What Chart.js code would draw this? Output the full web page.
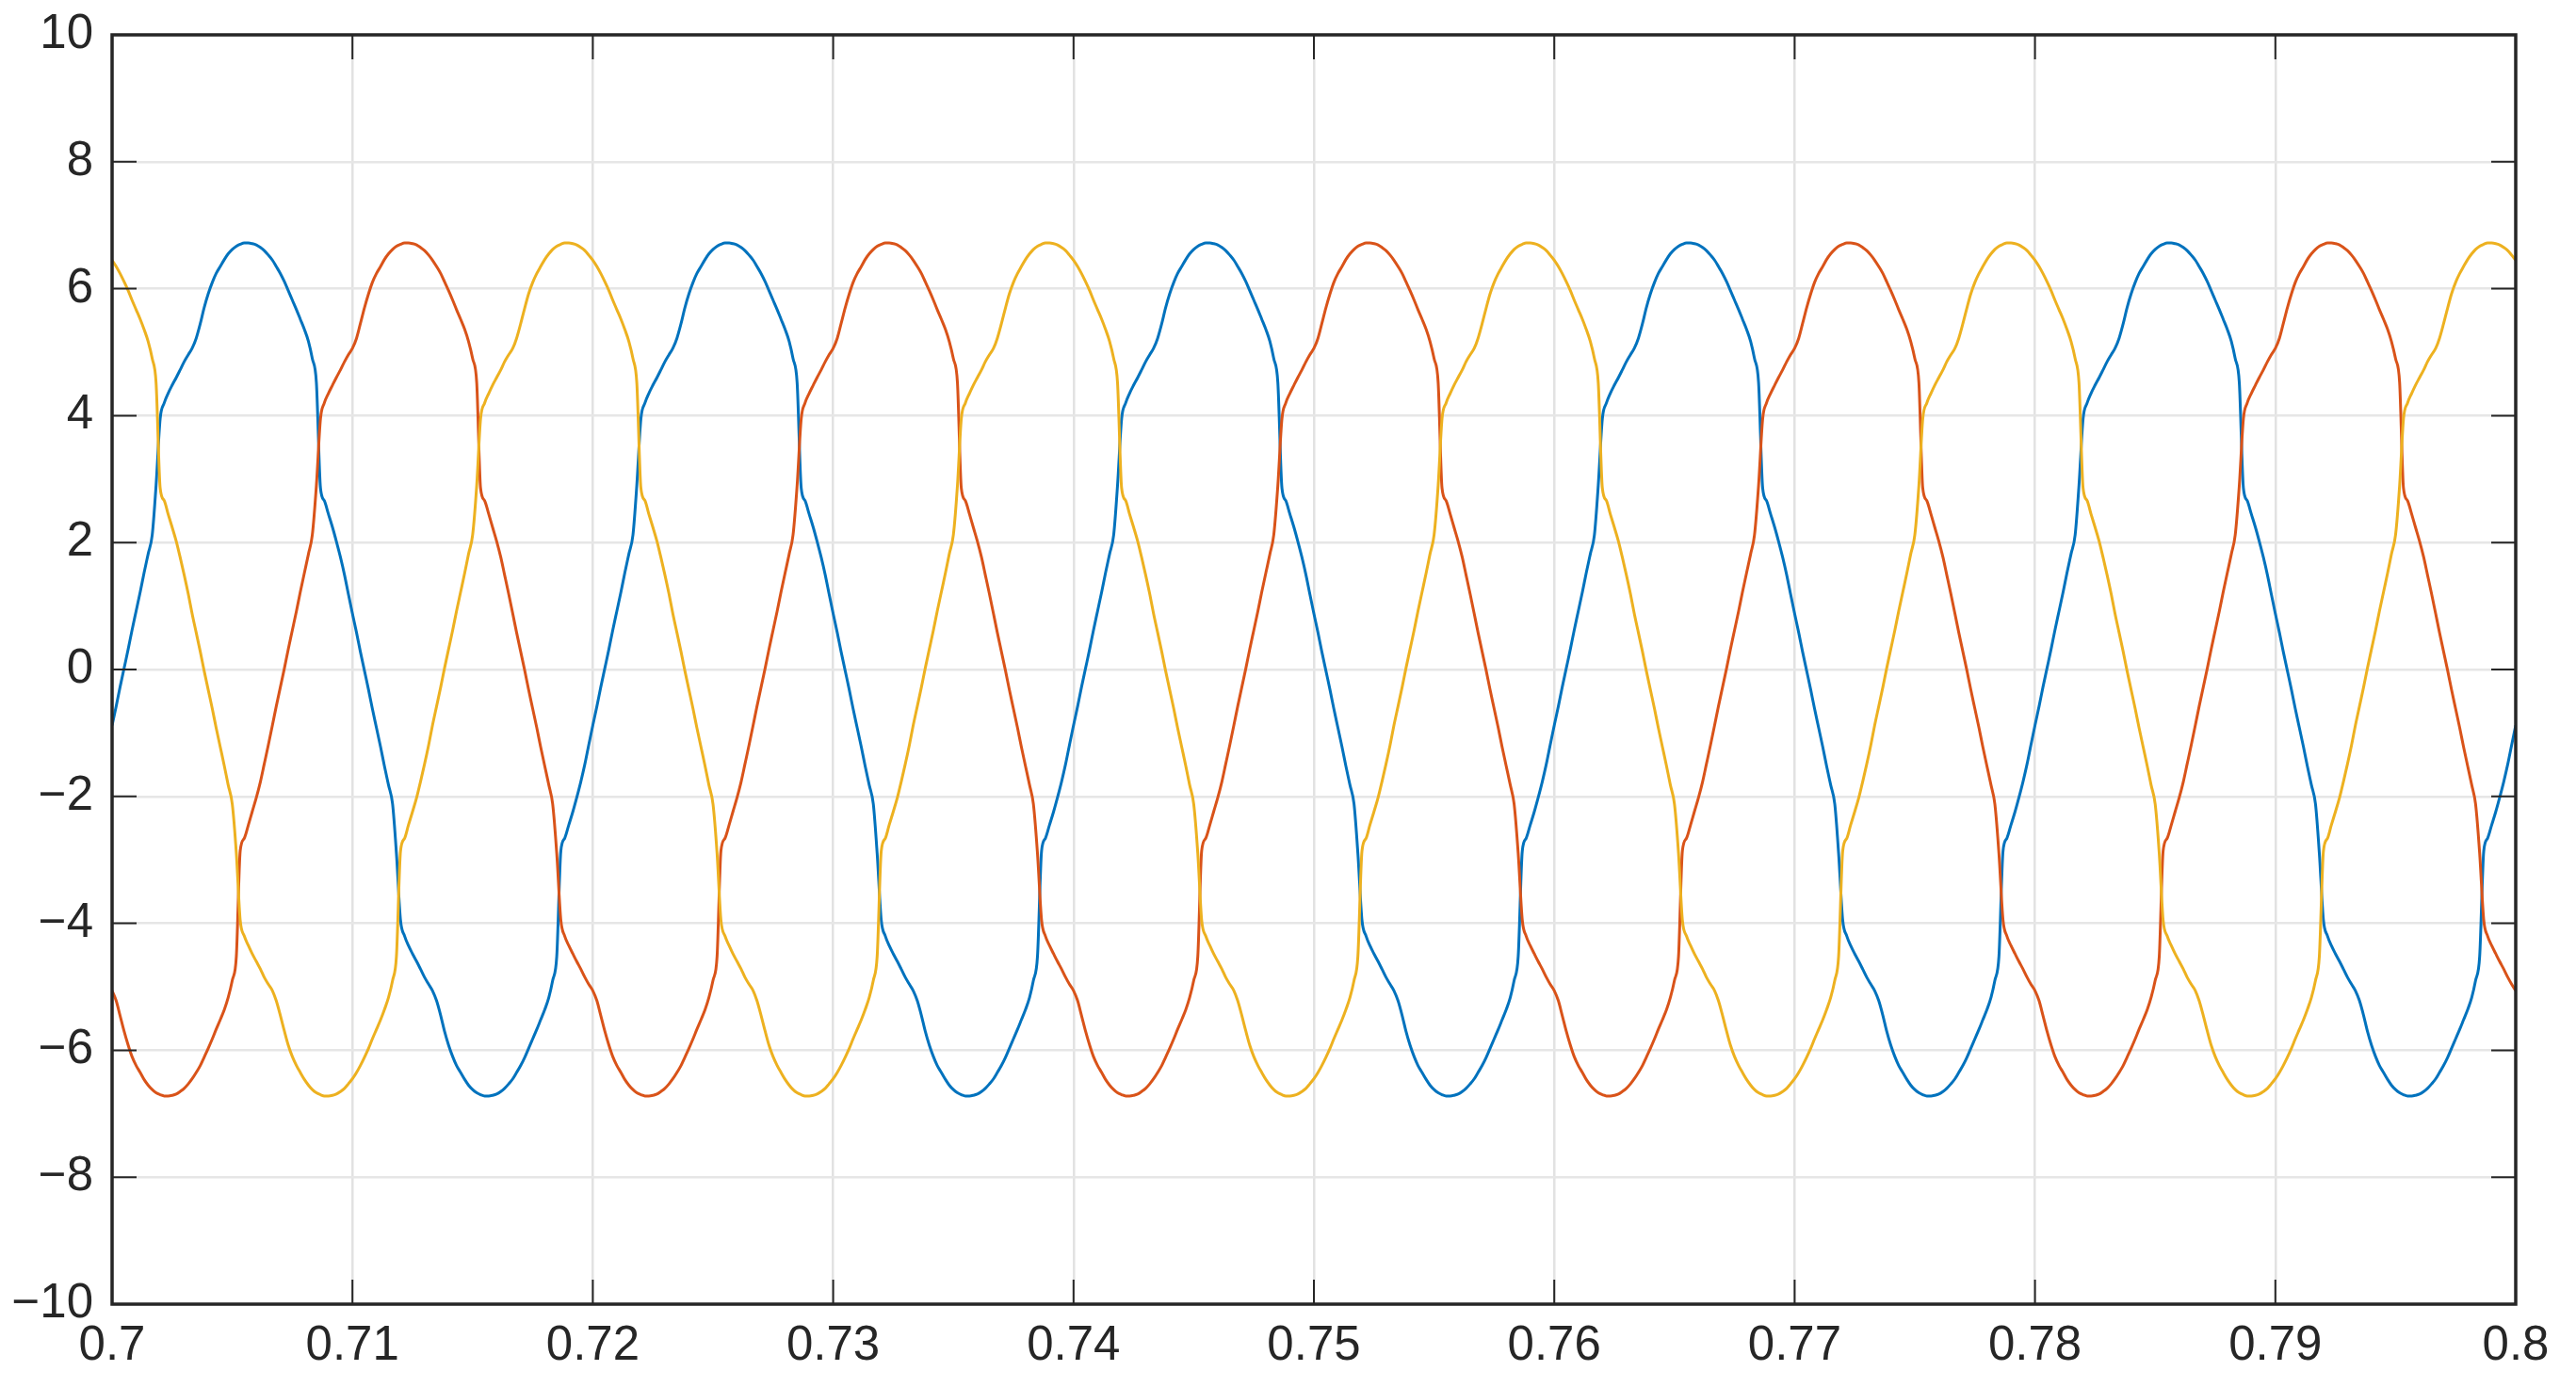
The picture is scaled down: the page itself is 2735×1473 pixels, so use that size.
<!DOCTYPE html>
<html>
<head>
<meta charset="utf-8">
<script src="https://cdn.jsdelivr.net/npm/chart.js@4.4.1/dist/chart.umd.min.js"></script>
<style>
html,body{margin:0;padding:0;background:#ffffff;}
#wrap{width:2735px;height:1473px;}
canvas{background:#ffffff;}
</style>
</head>
<body>
<div id="wrap"><canvas id="c" width="2735" height="1473"></canvas></div>
<script>
// Sample times (s), 1/6000 s apart
const sampleTimes = [
0.7,0.70017,0.70033,0.7005,0.70067,0.70083,
0.701,0.70117,0.70133,0.7015,0.70167,0.70183,
0.702,0.70217,0.70233,0.7025,0.70267,0.70283,
0.703,0.70317,0.70333,0.7035,0.70367,0.70383,
0.704,0.70417,0.70433,0.7045,0.70467,0.70483,
0.705,0.70517,0.70533,0.7055,0.70567,0.70583,
0.706,0.70617,0.70633,0.7065,0.70667,0.70683,
0.707,0.70717,0.70733,0.7075,0.70767,0.70783,
0.708,0.70817,0.70833,0.7085,0.70867,0.70883,
0.709,0.70917,0.70933,0.7095,0.70967,0.70983,
0.71,0.71017,0.71033,0.7105,0.71067,0.71083,
0.711,0.71117,0.71133,0.7115,0.71167,0.71183,
0.712,0.71217,0.71233,0.7125,0.71267,0.71283,
0.713,0.71317,0.71333,0.7135,0.71367,0.71383,
0.714,0.71417,0.71433,0.7145,0.71467,0.71483,
0.715,0.71517,0.71533,0.7155,0.71567,0.71583,
0.716,0.71617,0.71633,0.7165,0.71667,0.71683,
0.717,0.71717,0.71733,0.7175,0.71767,0.71783,
0.718,0.71817,0.71833,0.7185,0.71867,0.71883,
0.719,0.71917,0.71933,0.7195,0.71967,0.71983,
0.72,0.72017,0.72033,0.7205,0.72067,0.72083,
0.721,0.72117,0.72133,0.7215,0.72167,0.72183,
0.722,0.72217,0.72233,0.7225,0.72267,0.72283,
0.723,0.72317,0.72333,0.7235,0.72367,0.72383,
0.724,0.72417,0.72433,0.7245,0.72467,0.72483,
0.725,0.72517,0.72533,0.7255,0.72567,0.72583,
0.726,0.72617,0.72633,0.7265,0.72667,0.72683,
0.727,0.72717,0.72733,0.7275,0.72767,0.72783,
0.728,0.72817,0.72833,0.7285,0.72867,0.72883,
0.729,0.72917,0.72933,0.7295,0.72967,0.72983,
0.73,0.73017,0.73033,0.7305,0.73067,0.73083,
0.731,0.73117,0.73133,0.7315,0.73167,0.73183,
0.732,0.73217,0.73233,0.7325,0.73267,0.73283,
0.733,0.73317,0.73333,0.7335,0.73367,0.73383,
0.734,0.73417,0.73433,0.7345,0.73467,0.73483,
0.735,0.73517,0.73533,0.7355,0.73567,0.73583,
0.736,0.73617,0.73633,0.7365,0.73667,0.73683,
0.737,0.73717,0.73733,0.7375,0.73767,0.73783,
0.738,0.73817,0.73833,0.7385,0.73867,0.73883,
0.739,0.73917,0.73933,0.7395,0.73967,0.73983,
0.74,0.74017,0.74033,0.7405,0.74067,0.74083,
0.741,0.74117,0.74133,0.7415,0.74167,0.74183,
0.742,0.74217,0.74233,0.7425,0.74267,0.74283,
0.743,0.74317,0.74333,0.7435,0.74367,0.74383,
0.744,0.74417,0.74433,0.7445,0.74467,0.74483,
0.745,0.74517,0.74533,0.7455,0.74567,0.74583,
0.746,0.74617,0.74633,0.7465,0.74667,0.74683,
0.747,0.74717,0.74733,0.7475,0.74767,0.74783,
0.748,0.74817,0.74833,0.7485,0.74867,0.74883,
0.749,0.74917,0.74933,0.7495,0.74967,0.74983,
0.75,0.75017,0.75033,0.7505,0.75067,0.75083,
0.751,0.75117,0.75133,0.7515,0.75167,0.75183,
0.752,0.75217,0.75233,0.7525,0.75267,0.75283,
0.753,0.75317,0.75333,0.7535,0.75367,0.75383,
0.754,0.75417,0.75433,0.7545,0.75467,0.75483,
0.755,0.75517,0.75533,0.7555,0.75567,0.75583,
0.756,0.75617,0.75633,0.7565,0.75667,0.75683,
0.757,0.75717,0.75733,0.7575,0.75767,0.75783,
0.758,0.75817,0.75833,0.7585,0.75867,0.75883,
0.759,0.75917,0.75933,0.7595,0.75967,0.75983,
0.76,0.76017,0.76033,0.7605,0.76067,0.76083,
0.761,0.76117,0.76133,0.7615,0.76167,0.76183,
0.762,0.76217,0.76233,0.7625,0.76267,0.76283,
0.763,0.76317,0.76333,0.7635,0.76367,0.76383,
0.764,0.76417,0.76433,0.7645,0.76467,0.76483,
0.765,0.76517,0.76533,0.7655,0.76567,0.76583,
0.766,0.76617,0.76633,0.7665,0.76667,0.76683,
0.767,0.76717,0.76733,0.7675,0.76767,0.76783,
0.768,0.76817,0.76833,0.7685,0.76867,0.76883,
0.769,0.76917,0.76933,0.7695,0.76967,0.76983,
0.77,0.77017,0.77033,0.7705,0.77067,0.77083,
0.771,0.77117,0.77133,0.7715,0.77167,0.77183,
0.772,0.77217,0.77233,0.7725,0.77267,0.77283,
0.773,0.77317,0.77333,0.7735,0.77367,0.77383,
0.774,0.77417,0.77433,0.7745,0.77467,0.77483,
0.775,0.77517,0.77533,0.7755,0.77567,0.77583,
0.776,0.77617,0.77633,0.7765,0.77667,0.77683,
0.777,0.77717,0.77733,0.7775,0.77767,0.77783,
0.778,0.77817,0.77833,0.7785,0.77867,0.77883,
0.779,0.77917,0.77933,0.7795,0.77967,0.77983,
0.78,0.78017,0.78033,0.7805,0.78067,0.78083,
0.781,0.78117,0.78133,0.7815,0.78167,0.78183,
0.782,0.78217,0.78233,0.7825,0.78267,0.78283,
0.783,0.78317,0.78333,0.7835,0.78367,0.78383,
0.784,0.78417,0.78433,0.7845,0.78467,0.78483,
0.785,0.78517,0.78533,0.7855,0.78567,0.78583,
0.786,0.78617,0.78633,0.7865,0.78667,0.78683,
0.787,0.78717,0.78733,0.7875,0.78767,0.78783,
0.788,0.78817,0.78833,0.7885,0.78867,0.78883,
0.789,0.78917,0.78933,0.7895,0.78967,0.78983,
0.79,0.79017,0.79033,0.7905,0.79067,0.79083,
0.791,0.79117,0.79133,0.7915,0.79167,0.79183,
0.792,0.79217,0.79233,0.7925,0.79267,0.79283,
0.793,0.79317,0.79333,0.7935,0.79367,0.79383,
0.794,0.79417,0.79433,0.7945,0.79467,0.79483,
0.795,0.79517,0.79533,0.7955,0.79567,0.79583,
0.796,0.79617,0.79633,0.7965,0.79667,0.79683,
0.797,0.79717,0.79733,0.7975,0.79767,0.79783,
0.798,0.79817,0.79833,0.7985,0.79867,0.79883,
0.799,0.79917,0.79933,0.7995,0.79967,0.79983,
0.8
];

// Phase A (blue)
const phaseA = [
-0.88,-0.58,-0.28,0.02,0.32,0.62,0.92,1.22,1.52,1.82,2.12,2.9,3.95,4.2,4.35,4.48,4.6,4.72,4.85,4.96,5.06,5.22,5.45,5.7,5.92,6.1,6.24,6.35,6.46,6.55,6.62,6.67,6.7,6.72,6.72,6.71,6.69,6.65,6.6,6.53,6.45,6.35,6.24,6.11,5.97,5.82,5.67,5.52,5.36,5.17,4.9,4.52,2.86,2.66,2.45,2.24,2.02,1.77,1.49,1.19,
0.88,0.58,0.28,-0.02,-0.32,-0.62,-0.92,-1.22,-1.52,-1.82,-2.12,-2.9,-3.95,-4.2,-4.35,-4.48,-4.6,-4.72,-4.85,-4.96,-5.06,-5.22,-5.45,-5.7,-5.92,-6.1,-6.24,-6.35,-6.46,-6.55,-6.62,-6.67,-6.7,-6.72,-6.72,-6.71,-6.69,-6.65,-6.6,-6.53,-6.45,-6.35,-6.24,-6.11,-5.97,-5.82,-5.67,-5.52,-5.36,-5.17,-4.9,-4.52,-2.86,-2.66,-2.45,-2.24,-2.02,-1.77,-1.49,-1.19,
-0.88,-0.58,-0.28,0.02,0.32,0.62,0.92,1.22,1.52,1.82,2.12,2.9,3.95,4.2,4.35,4.48,4.6,4.72,4.85,4.96,5.06,5.22,5.45,5.7,5.92,6.1,6.24,6.35,6.46,6.55,6.62,6.67,6.7,6.72,6.72,6.71,6.69,6.65,6.6,6.53,6.45,6.35,6.24,6.11,5.97,5.82,5.67,5.52,5.36,5.17,4.9,4.52,2.86,2.66,2.45,2.24,2.02,1.77,1.49,1.19,
0.88,0.58,0.28,-0.02,-0.32,-0.62,-0.92,-1.22,-1.52,-1.82,-2.12,-2.9,-3.95,-4.2,-4.35,-4.48,-4.6,-4.72,-4.85,-4.96,-5.06,-5.22,-5.45,-5.7,-5.92,-6.1,-6.24,-6.35,-6.46,-6.55,-6.62,-6.67,-6.7,-6.72,-6.72,-6.71,-6.69,-6.65,-6.6,-6.53,-6.45,-6.35,-6.24,-6.11,-5.97,-5.82,-5.67,-5.52,-5.36,-5.17,-4.9,-4.52,-2.86,-2.66,-2.45,-2.24,-2.02,-1.77,-1.49,-1.19,
-0.88,-0.58,-0.28,0.02,0.32,0.62,0.92,1.22,1.52,1.82,2.12,2.9,3.95,4.2,4.35,4.48,4.6,4.72,4.85,4.96,5.06,5.22,5.45,5.7,5.92,6.1,6.24,6.35,6.46,6.55,6.62,6.67,6.7,6.72,6.72,6.71,6.69,6.65,6.6,6.53,6.45,6.35,6.24,6.11,5.97,5.82,5.67,5.52,5.36,5.17,4.9,4.52,2.86,2.66,2.45,2.24,2.02,1.77,1.49,1.19,
0.88,0.58,0.28,-0.02,-0.32,-0.62,-0.92,-1.22,-1.52,-1.82,-2.12,-2.9,-3.95,-4.2,-4.35,-4.48,-4.6,-4.72,-4.85,-4.96,-5.06,-5.22,-5.45,-5.7,-5.92,-6.1,-6.24,-6.35,-6.46,-6.55,-6.62,-6.67,-6.7,-6.72,-6.72,-6.71,-6.69,-6.65,-6.6,-6.53,-6.45,-6.35,-6.24,-6.11,-5.97,-5.82,-5.67,-5.52,-5.36,-5.17,-4.9,-4.52,-2.86,-2.66,-2.45,-2.24,-2.02,-1.77,-1.49,-1.19,
-0.88,-0.58,-0.28,0.02,0.32,0.62,0.92,1.22,1.52,1.82,2.12,2.9,3.95,4.2,4.35,4.48,4.6,4.72,4.85,4.96,5.06,5.22,5.45,5.7,5.92,6.1,6.24,6.35,6.46,6.55,6.62,6.67,6.7,6.72,6.72,6.71,6.69,6.65,6.6,6.53,6.45,6.35,6.24,6.11,5.97,5.82,5.67,5.52,5.36,5.17,4.9,4.52,2.86,2.66,2.45,2.24,2.02,1.77,1.49,1.19,
0.88,0.58,0.28,-0.02,-0.32,-0.62,-0.92,-1.22,-1.52,-1.82,-2.12,-2.9,-3.95,-4.2,-4.35,-4.48,-4.6,-4.72,-4.85,-4.96,-5.06,-5.22,-5.45,-5.7,-5.92,-6.1,-6.24,-6.35,-6.46,-6.55,-6.62,-6.67,-6.7,-6.72,-6.72,-6.71,-6.69,-6.65,-6.6,-6.53,-6.45,-6.35,-6.24,-6.11,-5.97,-5.82,-5.67,-5.52,-5.36,-5.17,-4.9,-4.52,-2.86,-2.66,-2.45,-2.24,-2.02,-1.77,-1.49,-1.19,
-0.88,-0.58,-0.28,0.02,0.32,0.62,0.92,1.22,1.52,1.82,2.12,2.9,3.95,4.2,4.35,4.48,4.6,4.72,4.85,4.96,5.06,5.22,5.45,5.7,5.92,6.1,6.24,6.35,6.46,6.55,6.62,6.67,6.7,6.72,6.72,6.71,6.69,6.65,6.6,6.53,6.45,6.35,6.24,6.11,5.97,5.82,5.67,5.52,5.36,5.17,4.9,4.52,2.86,2.66,2.45,2.24,2.02,1.77,1.49,1.19,
0.88,0.58,0.28,-0.02,-0.32,-0.62,-0.92,-1.22,-1.52,-1.82,-2.12,-2.9,-3.95,-4.2,-4.35,-4.48,-4.6,-4.72,-4.85,-4.96,-5.06,-5.22,-5.45,-5.7,-5.92,-6.1,-6.24,-6.35,-6.46,-6.55,-6.62,-6.67,-6.7,-6.72,-6.72,-6.71,-6.69,-6.65,-6.6,-6.53,-6.45,-6.35,-6.24,-6.11,-5.97,-5.82,-5.67,-5.52,-5.36,-5.17,-4.9,-4.52,-2.86,-2.66,-2.45,-2.24,-2.02,-1.77,-1.49,-1.19,
-0.88
];

// Phase B (red/orange)
const phaseB = [
-5.06,-5.22,-5.45,-5.7,-5.92,-6.1,-6.24,-6.35,-6.46,-6.55,-6.62,-6.67,-6.7,-6.72,-6.72,-6.71,-6.69,-6.65,-6.6,-6.53,-6.45,-6.35,-6.24,-6.11,-5.97,-5.82,-5.67,-5.52,-5.36,-5.17,-4.9,-4.52,-2.86,-2.66,-2.45,-2.24,-2.02,-1.77,-1.49,-1.19,
-0.88,-0.58,-0.28,0.02,0.32,0.62,0.92,1.22,1.52,1.82,2.12,2.9,3.95,4.2,4.35,4.48,4.6,4.72,4.85,4.96,5.06,5.22,5.45,5.7,5.92,6.1,6.24,6.35,6.46,6.55,6.62,6.67,6.7,6.72,6.72,6.71,6.69,6.65,6.6,6.53,6.45,6.35,6.24,6.11,5.97,5.82,5.67,5.52,5.36,5.17,4.9,4.52,2.86,2.66,2.45,2.24,2.02,1.77,1.49,1.19,
0.88,0.58,0.28,-0.02,-0.32,-0.62,-0.92,-1.22,-1.52,-1.82,-2.12,-2.9,-3.95,-4.2,-4.35,-4.48,-4.6,-4.72,-4.85,-4.96,-5.06,-5.22,-5.45,-5.7,-5.92,-6.1,-6.24,-6.35,-6.46,-6.55,-6.62,-6.67,-6.7,-6.72,-6.72,-6.71,-6.69,-6.65,-6.6,-6.53,-6.45,-6.35,-6.24,-6.11,-5.97,-5.82,-5.67,-5.52,-5.36,-5.17,-4.9,-4.52,-2.86,-2.66,-2.45,-2.24,-2.02,-1.77,-1.49,-1.19,
-0.88,-0.58,-0.28,0.02,0.32,0.62,0.92,1.22,1.52,1.82,2.12,2.9,3.95,4.2,4.35,4.48,4.6,4.72,4.85,4.96,5.06,5.22,5.45,5.7,5.92,6.1,6.24,6.35,6.46,6.55,6.62,6.67,6.7,6.72,6.72,6.71,6.69,6.65,6.6,6.53,6.45,6.35,6.24,6.11,5.97,5.82,5.67,5.52,5.36,5.17,4.9,4.52,2.86,2.66,2.45,2.24,2.02,1.77,1.49,1.19,
0.88,0.58,0.28,-0.02,-0.32,-0.62,-0.92,-1.22,-1.52,-1.82,-2.12,-2.9,-3.95,-4.2,-4.35,-4.48,-4.6,-4.72,-4.85,-4.96,-5.06,-5.22,-5.45,-5.7,-5.92,-6.1,-6.24,-6.35,-6.46,-6.55,-6.62,-6.67,-6.7,-6.72,-6.72,-6.71,-6.69,-6.65,-6.6,-6.53,-6.45,-6.35,-6.24,-6.11,-5.97,-5.82,-5.67,-5.52,-5.36,-5.17,-4.9,-4.52,-2.86,-2.66,-2.45,-2.24,-2.02,-1.77,-1.49,-1.19,
-0.88,-0.58,-0.28,0.02,0.32,0.62,0.92,1.22,1.52,1.82,2.12,2.9,3.95,4.2,4.35,4.48,4.6,4.72,4.85,4.96,5.06,5.22,5.45,5.7,5.92,6.1,6.24,6.35,6.46,6.55,6.62,6.67,6.7,6.72,6.72,6.71,6.69,6.65,6.6,6.53,6.45,6.35,6.24,6.11,5.97,5.82,5.67,5.52,5.36,5.17,4.9,4.52,2.86,2.66,2.45,2.24,2.02,1.77,1.49,1.19,
0.88,0.58,0.28,-0.02,-0.32,-0.62,-0.92,-1.22,-1.52,-1.82,-2.12,-2.9,-3.95,-4.2,-4.35,-4.48,-4.6,-4.72,-4.85,-4.96,-5.06,-5.22,-5.45,-5.7,-5.92,-6.1,-6.24,-6.35,-6.46,-6.55,-6.62,-6.67,-6.7,-6.72,-6.72,-6.71,-6.69,-6.65,-6.6,-6.53,-6.45,-6.35,-6.24,-6.11,-5.97,-5.82,-5.67,-5.52,-5.36,-5.17,-4.9,-4.52,-2.86,-2.66,-2.45,-2.24,-2.02,-1.77,-1.49,-1.19,
-0.88,-0.58,-0.28,0.02,0.32,0.62,0.92,1.22,1.52,1.82,2.12,2.9,3.95,4.2,4.35,4.48,4.6,4.72,4.85,4.96,5.06,5.22,5.45,5.7,5.92,6.1,6.24,6.35,6.46,6.55,6.62,6.67,6.7,6.72,6.72,6.71,6.69,6.65,6.6,6.53,6.45,6.35,6.24,6.11,5.97,5.82,5.67,5.52,5.36,5.17,4.9,4.52,2.86,2.66,2.45,2.24,2.02,1.77,1.49,1.19,
0.88,0.58,0.28,-0.02,-0.32,-0.62,-0.92,-1.22,-1.52,-1.82,-2.12,-2.9,-3.95,-4.2,-4.35,-4.48,-4.6,-4.72,-4.85,-4.96,-5.06,-5.22,-5.45,-5.7,-5.92,-6.1,-6.24,-6.35,-6.46,-6.55,-6.62,-6.67,-6.7,-6.72,-6.72,-6.71,-6.69,-6.65,-6.6,-6.53,-6.45,-6.35,-6.24,-6.11,-5.97,-5.82,-5.67,-5.52,-5.36,-5.17,-4.9,-4.52,-2.86,-2.66,-2.45,-2.24,-2.02,-1.77,-1.49,-1.19,
-0.88,-0.58,-0.28,0.02,0.32,0.62,0.92,1.22,1.52,1.82,2.12,2.9,3.95,4.2,4.35,4.48,4.6,4.72,4.85,4.96,5.06,5.22,5.45,5.7,5.92,6.1,6.24,6.35,6.46,6.55,6.62,6.67,6.7,6.72,6.72,6.71,6.69,6.65,6.6,6.53,6.45,6.35,6.24,6.11,5.97,5.82,5.67,5.52,5.36,5.17,4.9,4.52,2.86,2.66,2.45,2.24,2.02,1.77,1.49,1.19,
0.88,0.58,0.28,-0.02,-0.32,-0.62,-0.92,-1.22,-1.52,-1.82,-2.12,-2.9,-3.95,-4.2,-4.35,-4.48,-4.6,-4.72,-4.85,-4.96,-5.06
];

// Phase C (yellow)
const phaseC = [
6.45,6.35,6.24,6.11,5.97,5.82,5.67,5.52,5.36,5.17,4.9,4.52,2.86,2.66,2.45,2.24,2.02,1.77,1.49,1.19,
0.88,0.58,0.28,-0.02,-0.32,-0.62,-0.92,-1.22,-1.52,-1.82,-2.12,-2.9,-3.95,-4.2,-4.35,-4.48,-4.6,-4.72,-4.85,-4.96,-5.06,-5.22,-5.45,-5.7,-5.92,-6.1,-6.24,-6.35,-6.46,-6.55,-6.62,-6.67,-6.7,-6.72,-6.72,-6.71,-6.69,-6.65,-6.6,-6.53,-6.45,-6.35,-6.24,-6.11,-5.97,-5.82,-5.67,-5.52,-5.36,-5.17,-4.9,-4.52,-2.86,-2.66,-2.45,-2.24,-2.02,-1.77,-1.49,-1.19,
-0.88,-0.58,-0.28,0.02,0.32,0.62,0.92,1.22,1.52,1.82,2.12,2.9,3.95,4.2,4.35,4.48,4.6,4.72,4.85,4.96,5.06,5.22,5.45,5.7,5.92,6.1,6.24,6.35,6.46,6.55,6.62,6.67,6.7,6.72,6.72,6.71,6.69,6.65,6.6,6.53,6.45,6.35,6.24,6.11,5.97,5.82,5.67,5.52,5.36,5.17,4.9,4.52,2.86,2.66,2.45,2.24,2.02,1.77,1.49,1.19,
0.88,0.58,0.28,-0.02,-0.32,-0.62,-0.92,-1.22,-1.52,-1.82,-2.12,-2.9,-3.95,-4.2,-4.35,-4.48,-4.6,-4.72,-4.85,-4.96,-5.06,-5.22,-5.45,-5.7,-5.92,-6.1,-6.24,-6.35,-6.46,-6.55,-6.62,-6.67,-6.7,-6.72,-6.72,-6.71,-6.69,-6.65,-6.6,-6.53,-6.45,-6.35,-6.24,-6.11,-5.97,-5.82,-5.67,-5.52,-5.36,-5.17,-4.9,-4.52,-2.86,-2.66,-2.45,-2.24,-2.02,-1.77,-1.49,-1.19,
-0.88,-0.58,-0.28,0.02,0.32,0.62,0.92,1.22,1.52,1.82,2.12,2.9,3.95,4.2,4.35,4.48,4.6,4.72,4.85,4.96,5.06,5.22,5.45,5.7,5.92,6.1,6.24,6.35,6.46,6.55,6.62,6.67,6.7,6.72,6.72,6.71,6.69,6.65,6.6,6.53,6.45,6.35,6.24,6.11,5.97,5.82,5.67,5.52,5.36,5.17,4.9,4.52,2.86,2.66,2.45,2.24,2.02,1.77,1.49,1.19,
0.88,0.58,0.28,-0.02,-0.32,-0.62,-0.92,-1.22,-1.52,-1.82,-2.12,-2.9,-3.95,-4.2,-4.35,-4.48,-4.6,-4.72,-4.85,-4.96,-5.06,-5.22,-5.45,-5.7,-5.92,-6.1,-6.24,-6.35,-6.46,-6.55,-6.62,-6.67,-6.7,-6.72,-6.72,-6.71,-6.69,-6.65,-6.6,-6.53,-6.45,-6.35,-6.24,-6.11,-5.97,-5.82,-5.67,-5.52,-5.36,-5.17,-4.9,-4.52,-2.86,-2.66,-2.45,-2.24,-2.02,-1.77,-1.49,-1.19,
-0.88,-0.58,-0.28,0.02,0.32,0.62,0.92,1.22,1.52,1.82,2.12,2.9,3.95,4.2,4.35,4.48,4.6,4.72,4.85,4.96,5.06,5.22,5.45,5.7,5.92,6.1,6.24,6.35,6.46,6.55,6.62,6.67,6.7,6.72,6.72,6.71,6.69,6.65,6.6,6.53,6.45,6.35,6.24,6.11,5.97,5.82,5.67,5.52,5.36,5.17,4.9,4.52,2.86,2.66,2.45,2.24,2.02,1.77,1.49,1.19,
0.88,0.58,0.28,-0.02,-0.32,-0.62,-0.92,-1.22,-1.52,-1.82,-2.12,-2.9,-3.95,-4.2,-4.35,-4.48,-4.6,-4.72,-4.85,-4.96,-5.06,-5.22,-5.45,-5.7,-5.92,-6.1,-6.24,-6.35,-6.46,-6.55,-6.62,-6.67,-6.7,-6.72,-6.72,-6.71,-6.69,-6.65,-6.6,-6.53,-6.45,-6.35,-6.24,-6.11,-5.97,-5.82,-5.67,-5.52,-5.36,-5.17,-4.9,-4.52,-2.86,-2.66,-2.45,-2.24,-2.02,-1.77,-1.49,-1.19,
-0.88,-0.58,-0.28,0.02,0.32,0.62,0.92,1.22,1.52,1.82,2.12,2.9,3.95,4.2,4.35,4.48,4.6,4.72,4.85,4.96,5.06,5.22,5.45,5.7,5.92,6.1,6.24,6.35,6.46,6.55,6.62,6.67,6.7,6.72,6.72,6.71,6.69,6.65,6.6,6.53,6.45,6.35,6.24,6.11,5.97,5.82,5.67,5.52,5.36,5.17,4.9,4.52,2.86,2.66,2.45,2.24,2.02,1.77,1.49,1.19,
0.88,0.58,0.28,-0.02,-0.32,-0.62,-0.92,-1.22,-1.52,-1.82,-2.12,-2.9,-3.95,-4.2,-4.35,-4.48,-4.6,-4.72,-4.85,-4.96,-5.06,-5.22,-5.45,-5.7,-5.92,-6.1,-6.24,-6.35,-6.46,-6.55,-6.62,-6.67,-6.7,-6.72,-6.72,-6.71,-6.69,-6.65,-6.6,-6.53,-6.45,-6.35,-6.24,-6.11,-5.97,-5.82,-5.67,-5.52,-5.36,-5.17,-4.9,-4.52,-2.86,-2.66,-2.45,-2.24,-2.02,-1.77,-1.49,-1.19,
-0.88,-0.58,-0.28,0.02,0.32,0.62,0.92,1.22,1.52,1.82,2.12,2.9,3.95,4.2,4.35,4.48,4.6,4.72,4.85,4.96,5.06,5.22,5.45,5.7,5.92,6.1,6.24,6.35,6.46,6.55,6.62,6.67,6.7,6.72,6.72,6.71,6.69,6.65,6.6,6.53,6.45
];

const xTickLabels = ['0.7','0.71','0.72','0.73','0.74','0.75','0.76','0.77','0.78','0.79','0.8'];
const yTickLabels = ['\u221210','\u22128','\u22126','\u22124','\u22122','0','2','4','6','8','10'];

const seriesColors = ['#0072BD', '#D95319', '#EDB120'];

const matlabAxes = {
  id: 'matlabAxes',
  afterDatasetsDraw(chart) {
    const ctx = chart.ctx, a = chart.chartArea;
    const xs = chart.scales.x, ys = chart.scales.y;
    const L = 26;
    ctx.save();
    ctx.strokeStyle = '#262626';
    ctx.lineWidth = 2;
    ctx.beginPath();
    xs.ticks.forEach(t => {
      const px = xs.getPixelForValue(t.value);
      ctx.moveTo(px, a.bottom); ctx.lineTo(px, a.bottom - L);
      ctx.moveTo(px, a.top); ctx.lineTo(px, a.top + L);
    });
    ys.ticks.forEach(t => {
      const py = ys.getPixelForValue(t.value);
      ctx.moveTo(a.left, py); ctx.lineTo(a.left + L, py);
      ctx.moveTo(a.right, py); ctx.lineTo(a.right - L, py);
    });
    ctx.stroke();
    ctx.lineWidth = 3.5;
    ctx.strokeRect(a.left, a.top, a.right - a.left, a.bottom - a.top);
    ctx.restore();
  }
};

const fontFamily = '"Liberation Sans", Arial, Helvetica, sans-serif';

new Chart(document.getElementById('c'), {
  type: 'line',
  data: {
    labels: sampleTimes,
    datasets: [
      { data: phaseA, borderColor: seriesColors[0], order: 3 },
      { data: phaseB, borderColor: seriesColors[1], order: 2 },
      { data: phaseC, borderColor: seriesColors[2], order: 1 }
    ]
  },
  options: {
    responsive: false,
    animation: false,
    devicePixelRatio: 1,
    layout: { padding: { top: 37, right: 64, left: 0, bottom: 0 } },
    elements: {
      point: { radius: 0 },
      line: { borderWidth: 3, fill: false, cubicInterpolationMode: 'monotone' }
    },
    plugins: { legend: { display: false }, tooltip: { enabled: false } },
    scales: {
      x: {
        type: 'linear',
        min: 0.7, max: 0.8,
        afterFit(s) { s.height = 88; s.paddingLeft = 0; s.paddingRight = 0; },
        border: { display: false },
        grid: { color: '#e2e2e2', lineWidth: 2.5, drawTicks: false },
        ticks: {
          stepSize: 0.01, autoSkip: false, maxRotation: 0, padding: 14,
          color: '#262626', font: { family: fontFamily, size: 51 },
          callback: (v, i) => xTickLabels[i]
        }
      },
      y: {
        type: 'linear',
        min: -10, max: 10,
        afterFit(s) { s.width = 119; s.paddingTop = 0; s.paddingBottom = 0; },
        border: { display: false },
        grid: { color: '#e6e6e6', lineWidth: 2.5, drawTicks: false },
        ticks: {
          stepSize: 2, autoSkip: false, padding: 20,
          color: '#262626', font: { family: fontFamily, size: 51 },
          callback: (v, i) => yTickLabels[i]
        }
      }
    }
  },
  plugins: [matlabAxes]
});
</script>
</body>
</html>
